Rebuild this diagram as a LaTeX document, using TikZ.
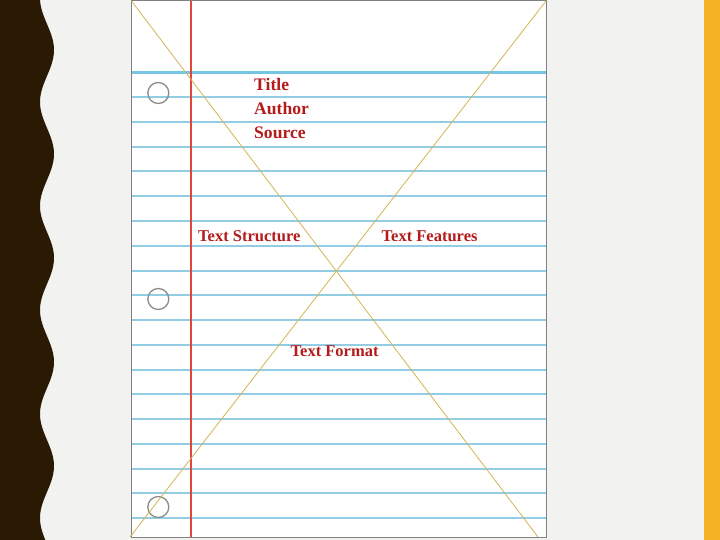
\documentclass[tikz,border=0pt]{standalone}
\usepackage{fontspec}
\setmainfont{Liberation Serif}
\definecolor{slidegray}{HTML}{F2F2F0}
\definecolor{bark}{HTML}{2A1A04}
\definecolor{sideband}{HTML}{F5B323}
\definecolor{ruleblue}{HTML}{92CDE3}
\definecolor{topblue}{HTML}{74C6E2}
\definecolor{marginred}{HTML}{E2453C}
\definecolor{crossline}{HTML}{D6B456}
\definecolor{labelred}{HTML}{B41B1B}
\tikzset{
  ruled/.style={ruleblue, line width=2bp},
  hole/.style={draw=gray!90, line width=1.3bp},
  label/.style={anchor=base west, inner sep=0pt, text=labelred,
    font=\fontsize{16.5bp}{20bp}\selectfont\bfseries},
  biglabel/.style={label, font=\fontsize{17.6bp}{20bp}\selectfont\bfseries}
}
\begin{document}
\begin{tikzpicture}[x=1bp,y=-1bp]
			\useasboundingbox (0,0) rectangle (720,540);
			% Background
			\fill[slidegray] (0,0) rectangle (720,540);
			\fill[bark] (0,0) -- plot[domain=0:540, samples=220, variable=\t] ({47-7*cos((\t+2)*3.461538)},\t) -- (0,540) -- cycle;
			\fill[sideband] (703.5,0) rectangle (720,540);
			
			% Paper
			\fill[white] (131.5,1) rectangle (546,537);
			\foreach \k in {1,...,18}
				\draw[ruled] (131.5,{72.5+24.75*\k}) -- (546,{72.5+24.75*\k});
			\draw[ruled, line width=2.6bp, topblue] (131.5,72.5) -- (546,72.5);
			\draw[marginred, line width=2bp] (191,1) -- (191,537);
			\draw[gray, line width=1bp] (131.5,1) rectangle (546,537);
			
			% Holes
			\foreach \y in {93,299,507}
				\draw[hole] (158.3,\y) circle (10.5);
			
			% Cross
			\coordinate (topleft) at (131.5,1);
			\coordinate (topright) at (546,1);
			\coordinate (botleft) at (130,537);
			\coordinate (botright) at (538,537);
			\draw[crossline, line width=0.8bp] (topleft) -- (botright);
			\draw[crossline, line width=0.8bp] (topright) -- (botleft);
			
			% Labels
			\node[biglabel] (title) at (254,91) {Title};
			\node[biglabel] (author) at (254,115) {Author};
			\node[biglabel] (source) at (254,139) {Source};
			\node[label] (structure) at (198,242) {Text Structure};
			\node[label] (features) at (381.5,242) {Text Features};
			\node[label] (format) at (290.5,356.5) {Text Format};
\end{tikzpicture}
\end{document}
